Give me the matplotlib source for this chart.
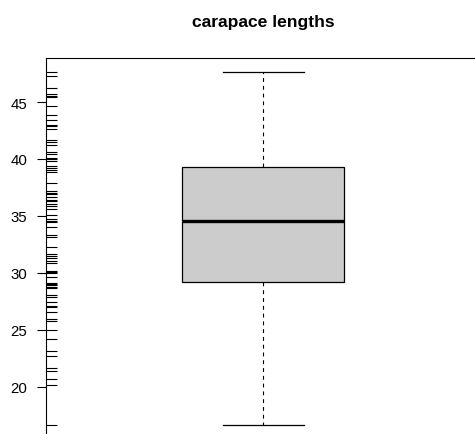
import matplotlib
matplotlib.use("Agg")
import matplotlib.pyplot as plt

# carapace lengths
lengths = [47.67, 47.26, 46.27, 45.74, 45.57, 45.44, 44.65, 43.84, 43.46, 42.99,
           42.90, 42.63, 41.70, 41.53, 41.26, 40.65, 40.47, 40.06, 39.95, 39.82,
           39.36, 39.18, 39.07, 38.83, 37.84, 37.19, 37.01, 36.90, 36.66, 36.37,
           36.26, 36.02, 35.85, 35.61, 35.08, 34.68, 34.56, 34.44, 34.03, 33.33,
           33.15, 32.27, 31.63, 31.46, 31.28, 30.99, 30.87, 30.17, 30.05, 29.94,
           29.59, 29.11, 29.00, 28.89, 28.76, 28.65, 28.06, 27.83, 27.42, 27.07,
           26.95, 26.54, 25.95, 25.78, 24.96, 24.14, 23.14, 22.65, 21.65, 21.36,
           20.66, 20.16, 16.65]

# five number summary as drawn
whislo = 16.65
q1 = 29.15
med = 34.52
q3 = 39.33
whishi = 47.67

yticks = [20, 25, 30, 35, 40, 45]

plt.rcParams['font.family'] = ['Liberation Sans', 'DejaVu Sans']

fig = plt.figure(figsize=(4.75, 4.35), dpi=100)
ax = fig.add_axes([0.0958, -0.011, 0.9171, 0.8765])

stats = [dict(med=med, q1=q1, q3=q3, whislo=whislo, whishi=whishi, fliers=[])]
ax.bxp(stats, positions=[1], widths=0.372, patch_artist=True,
       boxprops=dict(facecolor="#cccccc", edgecolor="black", linewidth=0.9),
       medianprops=dict(color="black", linewidth=2.4),
       whiskerprops=dict(color="black", linewidth=0.8, linestyle=(0, (3.5, 3.5))),
       capprops=dict(color="black", linewidth=0.9),
       capwidths=0.186)

# rug along the left axis
ax.hlines(lengths, 0.5, 0.5 + 0.0266, color="black", linewidth=0.8)

ax.set_xlim(0.5, 1.5)
ax.set_ylim(15.41, 48.91)
ax.set_xticks([])
ax.set_yticks(yticks)
ax.set_yticklabels([str(t) for t in yticks])
ax.tick_params(axis="y", length=6.5, width=0.8, pad=6.5, labelsize=10.8)

for s in ax.spines.values():
    s.set_linewidth(0.8)

fig.text(0.5545, 1 - 22.5 / 435, "carapace lengths", ha="center", va="center",
         fontsize=12.6, fontweight="bold")

fig.savefig("out.png", dpi=100)
